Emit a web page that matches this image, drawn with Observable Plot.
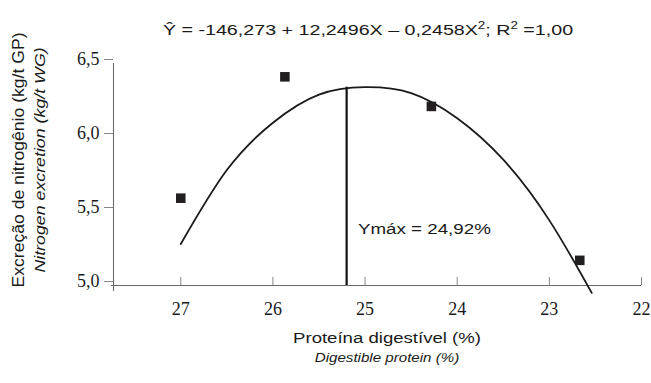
<!DOCTYPE html>
<html>
<head>
<meta charset="utf-8">
<script src="https://cdn.jsdelivr.net/npm/d3@7"></script>
<script src="https://cdn.jsdelivr.net/npm/@observablehq/plot@0.6"></script>
<style>
  html, body { margin: 0; padding: 0; background: #fff; }
  #wrap { width: 651px; height: 383px; overflow: hidden; }
  g[aria-label="x-axis tick label"] text, g[aria-label="y-axis tick label"] text { font-family: "Liberation Serif", "Times New Roman", serif; font-size: 18px; fill: #1a1a1a; }
  .lab { font-family: "Liberation Sans", Arial, sans-serif; fill: #1a1a1a; }
</style>
</head>
<body>
<div id="wrap"></div>
<script>
// Observed points
const pointX = [27.0, 25.87, 24.28, 22.67];
const pointY = [5.59, 6.41, 6.21, 5.17];

// Fitted curve
const curveX = [27.0, 26.5, 26.0, 25.5, 25.0, 24.5, 24.0, 23.5, 23.0, 22.54];
const curveY = [5.28, 5.78, 6.10, 6.29, 6.34, 6.30, 6.13, 5.85, 5.44, 4.95];

// Maximum marker line
const maxLineX = [25.2];
const maxLineY0 = [5.0];
const maxLineY1 = [6.34];

// Axes
const xTicks = [27, 26, 25, 24, 23, 22];
const yTicks = [5.0, 5.5, 6.0, 6.5];
const xDomain = [27.73, 22];
const yDomain = [5.0, 6.5];

// Texts
const titleParts = ["Ŷ = -146,273 + 12,2496X – 0,2458X", "2", "; R", "2", " =1,00"];
const yLabel = "Excreção de nitrogênio (kg/t GP)";
const yLabel2 = "Nitrogen excretion (kg/t WG)";
const xLabel = "Proteína digestível (%)";
const xLabel2 = "Digestible protein (%)";
const annotation = "Ymáx = 24,92%";

const points = pointX.map((x, i) => ({x, y: pointY[i]}));
const curve = curveX.map((x, i) => ({x, y: curveY[i]}));
const maxLine = maxLineX.map((x, i) => ({x, y1: maxLineY0[i], y2: maxLineY1[i]}));

const chart = Plot.plot({
  width: 651,
  height: 383,
  marginLeft: 113,
  marginRight: 10,
  marginTop: 63,
  marginBottom: 98,
  style: {background: "transparent", overflow: "visible"},
  x: {domain: xDomain, label: null},
  y: {domain: yDomain, label: null},
  marks: [
    Plot.ruleY([yDomain[0]], {stroke: "#6a6a6a", strokeWidth: 1.1, insetLeft: -2}),
    Plot.ruleX([xDomain[0]], {stroke: "#6a6a6a", strokeWidth: 1.1, insetBottom: -6}),
    Plot.axisX({ticks: xTicks, tickSize: -8, tickPadding: 25, tickFormat: d => String(d), stroke: "#888", fill: "#1a1a1a", label: null}),
    Plot.axisY({ticks: yTicks, tickSize: 9, tickPadding: 5, tickFormat: d => d.toFixed(1).replace(".", ","), stroke: "#888", fill: "#1a1a1a", dy: -4, label: null}),
    Plot.line(curve, {x: "x", y: "y", curve: "natural", stroke: "#1a1a1a", strokeWidth: 1.8}),
    Plot.ruleX(maxLine, {x: "x", y1: "y1", y2: "y2", stroke: "#111", strokeWidth: 2.2}),
    Plot.dot(points, {x: "x", y: "y", symbol: "square", r: 5.4, fill: "#231f20", stroke: "none"})
  ]
});

const svg = d3.select(chart);
const g = svg.append("g").attr("class", "lab");

// Title
const t = g.append("text")
  .attr("transform", "translate(368,35) scale(1.27,1)")
  .attr("text-anchor", "middle")
  .attr("font-size", 15.5);
titleParts.forEach((s, i) => {
  const sup = i === 1 || i === 3;
  const prevSup = i === 2 || i === 4;
  const ts = t.append("tspan").text(s);
  if (sup) ts.attr("dy", -6).attr("font-size", 10.5);
  if (prevSup) ts.attr("dy", 6);
});

// X labels
g.append("text").attr("transform", "translate(387,343) scale(1.24,1)")
  .attr("text-anchor", "middle").attr("font-size", 15).text(xLabel);
g.append("text").attr("transform", "translate(387,362) scale(1.21,1)")
  .attr("text-anchor", "middle").attr("font-size", 12.5).attr("font-style", "italic").text(xLabel2);

// Y labels
g.append("text").attr("transform", "translate(24,160) rotate(-90) scale(1.1,1)")
  .attr("text-anchor", "middle").attr("font-size", 16).text(yLabel);
g.append("text").attr("transform", "translate(45,160) rotate(-90) scale(1.27,1)")
  .attr("text-anchor", "middle").attr("font-size", 14).attr("font-style", "italic").text(yLabel2);

// Annotation
g.append("text").attr("transform", "translate(358,234) scale(1.25,1)")
  .attr("text-anchor", "start").attr("font-size", 15).text(annotation);

document.getElementById("wrap").append(chart);
</script>
</body>
</html>
